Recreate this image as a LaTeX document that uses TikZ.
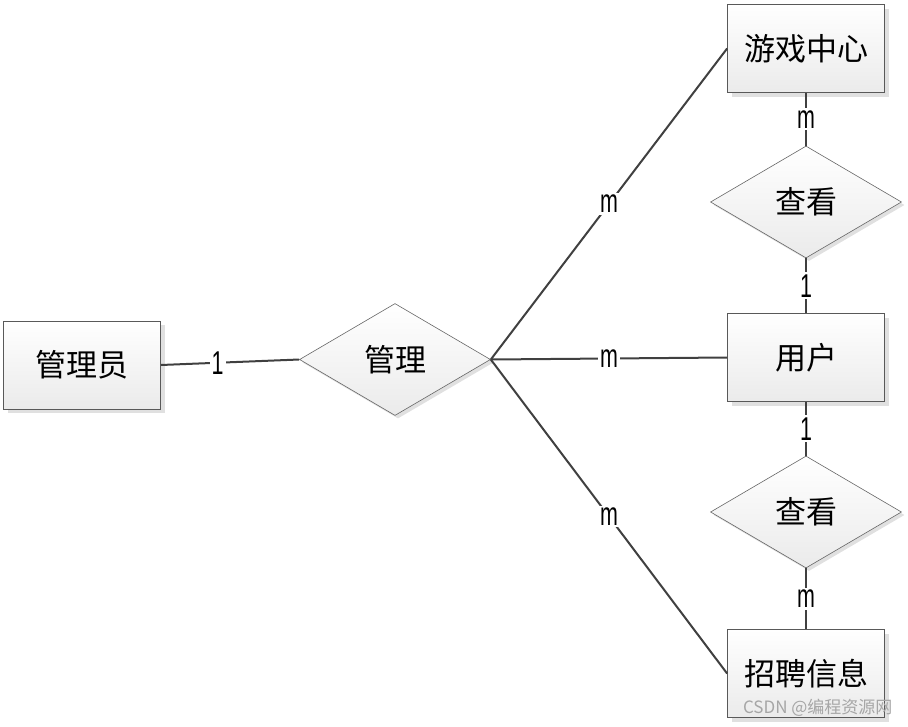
\documentclass[tikz,border=0pt]{standalone}
\usepackage{fontspec}
\setmainfont{Liberation Sans}
\newfontfamily\cjk{Noto Sans CJK SC}
\newfontfamily\lbl[FakeStretch=0.65]{Liberation Sans}
\usetikzlibrary{shapes.geometric,shadows}

\begin{document}
\begin{tikzpicture}[x=1pt,y=-1pt]
				\tikzstyle{entity}=[rectangle,draw=black!65,line width=0.8pt,
				top color=white,bottom color=black!8,
				minimum width=157pt,minimum height=88pt,inner sep=0pt,
				font=\cjk\fontsize{31}{31}\selectfont,
				drop shadow={shadow xshift=4pt,shadow yshift=-4pt,fill=black!12,opacity=1}]
				\tikzstyle{relation}=[diamond,draw=black!60,line width=0.6pt,
				top color=white,bottom color=black!8,
				minimum width=191pt,minimum height=112pt,inner sep=0pt,
				font=\cjk\fontsize{31}{31}\selectfont,
				drop shadow={shadow xshift=3pt,shadow yshift=-3pt,fill=black!12,opacity=1}]
				\tikzstyle{link}=[draw=black!75,line width=2pt]
				\tikzstyle{card}=[fill=white,inner sep=2pt,font=\lbl\fontsize{33}{33}\selectfont]
				\useasboundingbox (0,0) rectangle (908,726);
				% entities
				\node[entity] (admin) at (82,365) {管理员};
				\node[entity] (game) at (806,48.5) {游戏中心};
				\node[entity] (user) at (806,357.5) {用户};
				\node[entity] (job) at (806,673.5) {招聘信息};
				% relations
				\node[relation] (manage) at (395,359.5) {管理};
				\node[relation] (view1) at (806,202) {查看};
				\node[relation] (view2) at (806,512) {查看};
				% links
				\draw[link] (admin.east) -- node[card,pos=0.41] (c1) {1} (manage.west);
				\draw[link] (manage.east) -- node[card] (c2) {m} (game.west);
				\draw[link] (manage.east) -- node[card] (c3) {m} (user.west);
				\draw[link] (manage.east) -- node[card] (c4) {m} (job.west);
				\draw[link] (game.south) -- node[card] (c5) {m} (view1.north);
				\draw[link] (view1.south) -- node[card] (c6) {1} (user.north);
				\draw[link] (user.south) -- node[card] (c7) {1} (view2.north);
				\draw[link] (view2.south) -- node[card] (c8) {m} (job.north);
				% watermark
				\node[text=black!35,font=\cjk\fontsize{17}{17}\selectfont,anchor=east] (mark) at (896,708) {CSDN @编程资源网};
\end{tikzpicture}
\end{document}
